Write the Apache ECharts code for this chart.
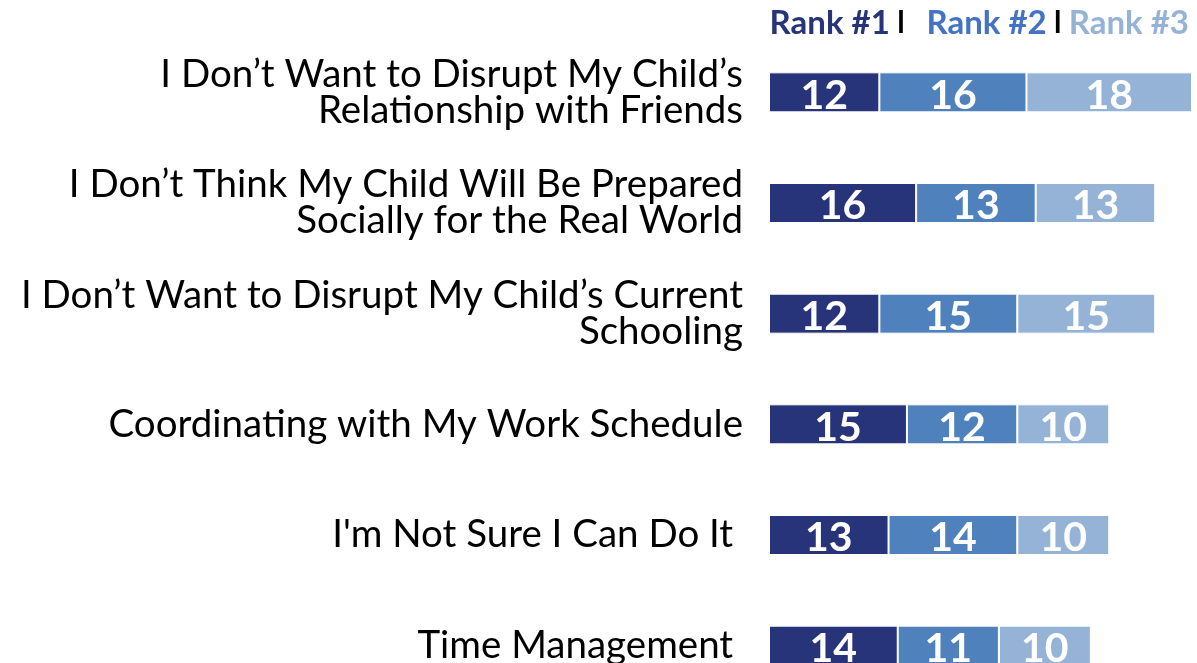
<!DOCTYPE html>
<html><head><meta charset="utf-8">
<script src="https://cdn.jsdelivr.net/npm/echarts@6/dist/echarts.min.js"></script>
<style>html,body{margin:0;padding:0;background:#fff;overflow:hidden}#c{width:1197px;height:701px}</style>
</head><body><div id="c"></div>
<script>
const categories = [
  "I Don\u2019t Want to Disrupt My Child\u2019s\nRelationship with Friends",
  "I Don\u2019t Think My Child Will Be Prepared\nSocially for the Real World",
  "I Don\u2019t Want to Disrupt My Child\u2019s Current\nSchooling",
  "Coordinating with My Work Schedule",
  "I'm Not Sure I Can Do It ",
  "Time Management "
];
const rank1 = [12, 16, 12, 15, 13, 14];
const rank2 = [16, 13, 15, 12, 14, 11];
const rank3 = [18, 13, 15, 10, 10, 10];
const seriesNames = ["Rank #1", "Rank #2", "Rank #3"];
const colors = ["#283479", "#4f81bd", "#95b3d7"];
const headerColors = ["#283479", "#4472c4", "#95b3d7"];

const FONT = "Lato";
const chart = echarts.init(document.getElementById('c'), null, {renderer: 'canvas'});
const mk = (name, data, i) => ({
  name, type: 'bar', stack: 'total', data, barWidth: 40,
  itemStyle: {color: colors[i], borderColor: '#fff', borderWidth: 1},
  label: {show: true, position: 'inside', color: '#fff', fontFamily: FONT, fontWeight: 'bold', fontSize: 41, offset: [0, 3]}
});
chart.setOption({
  animation: false,
  title: {
    text: '{a|' + seriesNames[0] + '}{s| l   }{b|' + seriesNames[1] + '}{s| l }{c|' + seriesNames[2] + '}',
    right: 3, top: 2,
    textStyle: {
      rich: {
        a: {color: headerColors[0], fontFamily: FONT, fontWeight: 'bold', fontSize: 33},
        b: {color: headerColors[1], fontFamily: FONT, fontWeight: 'bold', fontSize: 33},
        c: {color: headerColors[2], fontFamily: FONT, fontWeight: 'bold', fontSize: 33},
        s: {color: '#000', fontFamily: FONT, fontSize: 30}
      }
    }
  },
  grid: {left: 769, right: 5, top: 37, bottom: 0, containLabel: false},
  xAxis: {type: 'value', min: 0, max: 46, show: false},
  yAxis: {
    type: 'category', data: categories, inverse: true,
    axisLine: {show: false}, axisTick: {show: false},
    axisLabel: {margin: 26, color: '#000', fontFamily: FONT, fontSize: 38.5, lineHeight: 36, align: 'right'}
  },
  series: [mk(seriesNames[0], rank1, 0), mk(seriesNames[1], rank2, 1), mk(seriesNames[2], rank3, 2)]
});
</script></body></html>
